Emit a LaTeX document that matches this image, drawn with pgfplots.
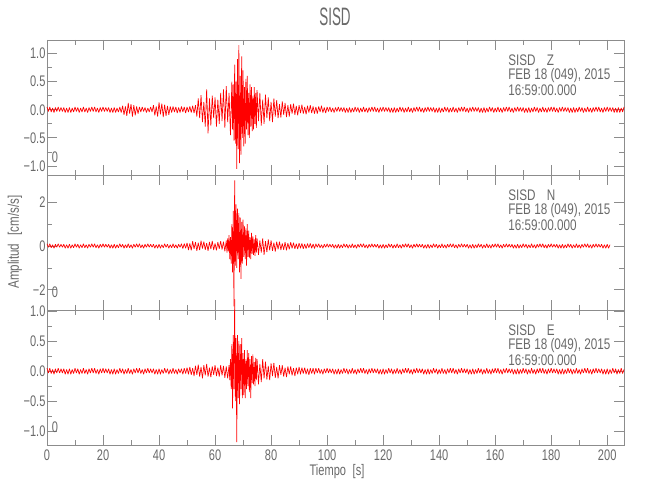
\documentclass[border=0pt]{standalone}
\usepackage{fontspec}
\setmainfont{Liberation Sans}[FakeStretch=0.72]
\usepackage{pgfplots}
\pgfplotsset{compat=1.18}
\definecolor{txt}{RGB}{105,105,105}
\definecolor{axc}{RGB}{140,140,140}
\pgfplotsset{
 seis/.style={
   scale only axis, width=432.75pt, height=101.25pt,
   xmin=0, xmax=206, clip=false,
   axis line style={axc, line width=0.6pt},
   tick style={axc, line width=0.6pt},
   major tick length=7.5pt, minor tick length=3.75pt,
   xtick={0,20,...,200}, minor x tick num=1,
   minor y tick num=1,
   tick align=inside,
   ticklabel style={font=\fontsize{11.5}{13}\selectfont, text=txt},
   /pgf/number format/assume math mode=true,
   yticklabel style={inner xsep=1pt},
   anchor=south west,
 },
 trace/.style={red, line width=0.5pt, line join=bevel},
}
\begin{document}
\begin{tikzpicture}[font=\fontsize{11.5}{13}\selectfont]
\useasboundingbox (0,0) rectangle (487.5pt,375pt);
% ---------- Z ----------
\begin{axis}[seis, at={(35.25pt,243.75pt)}, ymin=-1.16, ymax=1.24,
  ytick={-1,-0.5,0,0.5,1}, yticklabels={−1.0,−0.5,0.0,0.5,1.0}, xticklabels={}]
\addplot[trace] coordinates {
(0,0.05)(0.5,-0.03)(1,0.05)(1.5,-0.04)(2,0.03)(2.5,-0.05)(3,0.04)(3.5,-0.03)(4,0.05)(4.5,-0.03)(5,0.04)(5.5,-0.03)(6,0.04)(6.5,-0.05)(7,0.03)(7.5,-0.05)
(8,0.04)(8.5,-0.05)(9,0.03)(9.5,-0.04)(10,0.05)(10.5,-0.03)(11,0.04)(11.5,-0.05)(12,0.03)(12.5,-0.04)(13,0.05)(13.5,-0.04)(14,0.03)(14.5,-0.05)(15,0.04)(15.5,-0.03)
(16,0.05)(16.5,-0.03)(17,0.05)(17.5,-0.04)(18,0.03)(18.5,-0.05)(19,0.04)(19.5,-0.03)(20,0.05)(20.5,-0.03)(21,0.04)(21.5,-0.03)(22,0.04)(22.5,-0.05)(23,0.03)(23.5,-0.05)
(24,0.04)(24.5,-0.05)(25,0.03)(25.5,-0.04)(26,0.05)(26.5,-0.05)
(27,0.07)(27.5,-0.09)(28,0.06)(28.5,-0.11)(29,0.12)(29.5,-0.07)(30,0.1)(30.5,-0.12)(31,0.08)(31.5,-0.1)(32,0.06)(32.5,-0.07)
(33,0.05)(33.5,-0.04)(34,0.05)(34.5,-0.03)(35,0.04)(35.5,-0.05)(36,0.03)(36.5,-0.04)(37,0.05)(37.5,-0.04)
(38,0.08)(38.5,-0.1)(39,0.06)(39.5,-0.12)(40,0.13)(40.5,-0.08)(41,0.11)(41.5,-0.13)(42,0.09)(42.5,-0.11)(43,0.07)(43.5,-0.09)(44,0.06)
(44.5,-0.05)(45,0.06)(45.5,-0.04)(46,0.05)(46.5,-0.06)(47,0.04)(47.5,-0.05)(48,0.06)(48.5,-0.04)(49,0.05)(49.5,-0.06)(50,0.05)(50.5,-0.04)(51,0.06)(51.5,-0.05)(52,0.07)(52.5,-0.06)(53,0.08)
(53.5,-0.12)(54,0.2)(54.5,-0.15)(55,0.26)(55.5,-0.22)(56,0.14)(56.5,-0.3)(57,0.36)(57.5,-0.42)(58,0.2)(58.5,-0.28)(59,0.25)(59.5,-0.15)(60,0.22)(60.5,-0.3)(61,0.18)(61.5,-0.25)(62,0.3)(62.5,-0.2)(63,0.36)(63.5,-0.32)(64,0.42)(64.5,-0.22)(65,0.3)(65.5,-0.45)(66,0.5)
(66.25,-0.35)(66.5,0.45)(66.75,-0.55)(67,0.8)(67.25,-0.6)(67.5,0.5)(67.75,-1.05)(68,0.9)(68.25,-0.7)(68.5,1.15)(68.75,-0.95)(69,0.6)(69.25,-0.8)(69.5,0.95)(69.75,-0.5)(70,0.7)(70.25,-0.65)(70.5,0.4)(70.75,-0.6)(71,0.55)(71.25,-0.35)(71.5,0.6)(71.75,-0.45)(72,0.3)(72.25,-0.5)(72.5,0.45)(72.75,-0.3)(73,0.4)(73.25,-0.38)(73.5,0.25)(73.75,-0.35)(74,0.4)(74.25,-0.25)(74.5,0.3)(74.75,-0.32)(75,0.35)
(75.5,-0.2)(76,0.3)(76.5,-0.28)(77,0.18)(77.5,-0.25)(78,0.27)(78.5,-0.15)(79,0.22)(79.5,-0.2)(80,0.14)(80.5,-0.22)(81,0.2)(81.5,-0.12)(82,0.17)(82.5,-0.15)(83,0.1)(83.5,-0.14)(84,0.15)(84.5,-0.09)(85,0.12)(85.5,-0.13)(86,0.08)(86.5,-0.12)(87,0.1)(87.5,-0.07)(88,0.11)(88.5,-0.09)(89,0.07)(89.5,-0.1)
(90,0.08)(90.5,-0.06)(91,0.09)(91.5,-0.07)(92,0.05)(92.5,-0.08)(93,0.07)(93.5,-0.05)(94,0.08)(94.5,-0.06)(95,0.06)(95.5,-0.07)(96,0.05)(96.5,-0.07)(97,0.06)(97.5,-0.04)(98,0.07)(98.5,-0.05)(99,0.04)(99.5,-0.06)
(100,0.05)(100.5,-0.03)(101,0.05)(101.5,-0.04)(102,0.03)(102.5,-0.05)(103,0.04)(103.5,-0.03)(104,0.05)(104.5,-0.03)(105,0.04)(105.5,-0.03)(106,0.04)(106.5,-0.05)(107,0.03)(107.5,-0.05)
(108,0.04)(108.5,-0.05)(109,0.03)(109.5,-0.04)(110,0.05)(110.5,-0.03)(111,0.04)(111.5,-0.05)(112,0.03)(112.5,-0.04)(113,0.05)(113.5,-0.04)(114,0.03)(114.5,-0.05)(115,0.04)(115.5,-0.03)
(116,0.05)(116.5,-0.03)(117,0.05)(117.5,-0.04)(118,0.03)(118.5,-0.05)(119,0.04)(119.5,-0.03)(120,0.05)(120.5,-0.03)(121,0.04)(121.5,-0.03)(122,0.04)(122.5,-0.05)(123,0.03)(123.5,-0.05)
(124,0.04)(124.5,-0.05)(125,0.03)(125.5,-0.04)(126,0.05)(126.5,-0.03)(127,0.04)(127.5,-0.05)(128,0.03)(128.5,-0.04)(129,0.05)(129.5,-0.04)(130,0.03)(130.5,-0.05)(131,0.04)(131.5,-0.03)
(132,0.05)(132.5,-0.03)(133,0.05)(133.5,-0.04)(134,0.03)(134.5,-0.05)(135,0.04)(135.5,-0.03)(136,0.05)(136.5,-0.03)(137,0.04)(137.5,-0.03)(138,0.04)(138.5,-0.05)(139,0.03)(139.5,-0.05)
(140,0.04)(140.5,-0.05)(141,0.03)(141.5,-0.04)(142,0.05)(142.5,-0.03)(143,0.04)(143.5,-0.05)(144,0.03)(144.5,-0.04)(145,0.05)(145.5,-0.04)(146,0.03)(146.5,-0.05)(147,0.04)(147.5,-0.03)
(148,0.05)(148.5,-0.03)(149,0.05)(149.5,-0.04)(150,0.03)(150.5,-0.05)(151,0.04)(151.5,-0.03)(152,0.05)(152.5,-0.03)(153,0.04)(153.5,-0.03)(154,0.04)(154.5,-0.05)(155,0.03)(155.5,-0.05)
(156,0.04)(156.5,-0.05)(157,0.03)(157.5,-0.04)(158,0.05)(158.5,-0.03)(159,0.04)(159.5,-0.05)(160,0.03)(160.5,-0.04)(161,0.05)(161.5,-0.04)(162,0.03)(162.5,-0.05)(163,0.04)(163.5,-0.03)
(164,0.05)(164.5,-0.03)(165,0.05)(165.5,-0.04)(166,0.03)(166.5,-0.05)(167,0.04)(167.5,-0.03)(168,0.05)(168.5,-0.03)(169,0.04)(169.5,-0.03)(170,0.04)(170.5,-0.05)(171,0.03)(171.5,-0.05)
(172,0.04)(172.5,-0.05)(173,0.03)(173.5,-0.04)(174,0.05)(174.5,-0.03)(175,0.04)(175.5,-0.05)(176,0.03)(176.5,-0.04)(177,0.05)(177.5,-0.04)(178,0.03)(178.5,-0.05)(179,0.04)(179.5,-0.03)
(180,0.05)(180.5,-0.03)(181,0.05)(181.5,-0.04)(182,0.03)(182.5,-0.05)(183,0.04)(183.5,-0.03)(184,0.05)(184.5,-0.03)(185,0.04)(185.5,-0.03)(186,0.04)(186.5,-0.05)(187,0.03)(187.5,-0.05)
(188,0.04)(188.5,-0.05)(189,0.03)(189.5,-0.04)(190,0.05)(190.5,-0.03)(191,0.04)(191.5,-0.05)(192,0.03)(192.5,-0.04)(193,0.05)(193.5,-0.04)(194,0.03)(194.5,-0.05)(195,0.04)(195.5,-0.03)
(196,0.05)(196.5,-0.03)(197,0.05)(197.5,-0.04)(198,0.03)(198.5,-0.05)(199,0.04)(199.5,-0.03)(200,0.05)(200.5,-0.03)(201,0.04)(201.5,-0.03)(202,0.04)(202.5,-0.05)(203,0.03)(203.5,-0.05)
(204,0.04)(204.5,-0.05)(205,0.03)(205.5,-0.04)(206,0.05)
};
\end{axis}
% ---------- N ----------
\begin{axis}[seis, at={(35.25pt,142.5pt)}, ymin=-2.92, ymax=3.24,
  ytick={-2,0,2}, yticklabels={−2,0,2}, xticklabels={}]
\addplot[trace] coordinates {
(0,0.1)(0.5,-0.06)(1,0.1)(1.5,-0.08)(2,0.06)(2.5,-0.1)(3,0.08)(3.5,-0.06)(4,0.1)(4.5,-0.06)(5,0.08)(5.5,-0.06)(6,0.08)(6.5,-0.1)(7,0.06)(7.5,-0.1)
(8,0.08)(8.5,-0.1)(9,0.06)(9.5,-0.08)(10,0.1)(10.5,-0.06)(11,0.08)(11.5,-0.1)(12,0.06)(12.5,-0.08)(13,0.1)(13.5,-0.08)(14,0.06)(14.5,-0.1)(15,0.08)(15.5,-0.06)
(16,0.1)(16.5,-0.06)(17,0.1)(17.5,-0.08)(18,0.06)(18.5,-0.1)(19,0.08)(19.5,-0.06)(20,0.1)(20.5,-0.06)(21,0.08)(21.5,-0.06)(22,0.08)(22.5,-0.1)(23,0.06)(23.5,-0.1)
(24,0.08)(24.5,-0.1)(25,0.06)(25.5,-0.08)(26,0.1)(26.5,-0.06)(27,0.08)(27.5,-0.1)(28,0.06)(28.5,-0.08)(29,0.1)(29.5,-0.08)(30,0.06)(30.5,-0.1)(31,0.08)(31.5,-0.06)
(32,0.1)(32.5,-0.06)(33,0.1)(33.5,-0.08)(34,0.06)(34.5,-0.1)(35,0.08)(35.5,-0.06)(36,0.1)(36.5,-0.06)(37,0.08)(37.5,-0.06)(38,0.08)(38.5,-0.1)(39,0.06)(39.5,-0.1)
(40,0.08)(40.5,-0.1)(41,0.06)(41.5,-0.08)(42,0.1)(42.5,-0.06)(43,0.08)(43.5,-0.1)(44,0.06)(44.5,-0.08)(45,0.1)(45.5,-0.08)(46,0.06)(46.5,-0.1)(47,0.08)(47.5,-0.06)
(48,0.1)(48.5,-0.12)(49,0.11)(49.5,-0.1)
(50,0.14)(50.5,-0.18)(51,0.12)(51.5,-0.2)(52,0.22)(52.5,-0.13)(53,0.18)(53.5,-0.22)(54,0.15)(54.5,-0.19)(55,0.24)(55.5,-0.12)(56,0.2)(56.5,-0.17)(57,0.13)(57.5,-0.22)(58,0.19)(58.5,-0.14)(59,0.23)(59.5,-0.18)(60,0.12)(60.5,-0.2)(61,0.18)(61.5,-0.13)(62,0.22)(62.5,-0.16)(63,0.2)(63.5,-0.24)
(64,0.25)(64.25,-0.3)(64.5,0.35)(64.75,-0.25)(65,0.5)(65.25,-0.6)(65.5,0.4)(65.75,-0.8)(66,1.0)(66.25,-1.2)(66.5,1.6)(66.75,-2.75)(67,3.0)(67.25,-0.9)(67.5,1.9)(67.75,-1.0)(68,1.7)(68.25,-0.6)(68.5,1.5)(68.75,-1.2)(69,1.3)(69.25,-1.5)(69.5,1.1)(69.75,-0.8)(70,1.2)(70.25,-0.5)(70.5,0.9)(70.75,-0.6)(71,0.8)(71.25,-0.9)(71.5,1.0)(71.75,-0.5)(72,0.7)(72.25,-0.55)(72.5,0.4)(72.75,-0.6)(73,0.6)(73.25,-0.35)(73.5,0.45)(73.75,-0.4)(74,0.3)(74.25,-0.45)(74.5,0.5)(74.75,-0.3)(75,0.35)
(75.5,-0.4)(76,0.25)(76.5,-0.3)(77,0.35)(77.5,-0.4)(78,0.22)(78.5,-0.28)(79,0.3)(79.5,-0.2)(80,0.25)(80.5,-0.22)(81,0.15)(81.5,-0.25)(82,0.2)(82.5,-0.15)(83,0.2)(83.5,-0.18)(84,0.12)(84.5,-0.17)(85,0.18)(85.5,-0.2)(86,0.13)(86.5,-0.15)(87,0.17)(87.5,-0.11)(88,0.15)(88.5,-0.13)(89,0.1)(89.5,-0.14)
(90,0.13)(90.5,-0.1)(91,0.12)(91.5,-0.13)(92,0.09)(92.5,-0.12)(93,0.11)(93.5,-0.08)(94,0.12)(94.5,-0.1)(95,0.09)(95.5,-0.11)
(96,0.1)(96.5,-0.06)(97,0.1)(97.5,-0.08)(98,0.06)(98.5,-0.1)(99,0.08)(99.5,-0.06)(100,0.1)(100.5,-0.06)(101,0.08)(101.5,-0.06)(102,0.08)(102.5,-0.1)(103,0.06)(103.5,-0.1)
(104,0.08)(104.5,-0.1)(105,0.06)(105.5,-0.08)(106,0.1)(106.5,-0.06)(107,0.08)(107.5,-0.1)(108,0.06)(108.5,-0.08)(109,0.1)(109.5,-0.08)(110,0.06)(110.5,-0.1)(111,0.08)(111.5,-0.06)
(112,0.1)(112.5,-0.06)(113,0.1)(113.5,-0.08)(114,0.06)(114.5,-0.1)(115,0.08)(115.5,-0.06)(116,0.1)(116.5,-0.06)(117,0.08)(117.5,-0.06)(118,0.08)(118.5,-0.1)(119,0.06)(119.5,-0.1)
(120,0.08)(120.5,-0.1)(121,0.06)(121.5,-0.08)(122,0.1)(122.5,-0.06)(123,0.08)(123.5,-0.1)(124,0.06)(124.5,-0.08)(125,0.1)(125.5,-0.08)(126,0.06)(126.5,-0.1)(127,0.08)(127.5,-0.06)
(128,0.1)(128.5,-0.06)(129,0.1)(129.5,-0.08)(130,0.06)(130.5,-0.1)(131,0.08)(131.5,-0.06)(132,0.1)(132.5,-0.06)(133,0.08)(133.5,-0.06)(134,0.08)(134.5,-0.1)(135,0.06)(135.5,-0.1)
(136,0.08)(136.5,-0.1)(137,0.06)(137.5,-0.08)(138,0.1)(138.5,-0.06)(139,0.08)(139.5,-0.1)(140,0.06)(140.5,-0.08)(141,0.1)(141.5,-0.08)(142,0.06)(142.5,-0.1)(143,0.08)(143.5,-0.06)
(144,0.1)(144.5,-0.06)(145,0.1)(145.5,-0.08)(146,0.06)(146.5,-0.1)(147,0.08)(147.5,-0.06)(148,0.1)(148.5,-0.06)(149,0.08)(149.5,-0.06)(150,0.08)(150.5,-0.1)(151,0.06)(151.5,-0.1)
(152,0.08)(152.5,-0.1)(153,0.06)(153.5,-0.08)(154,0.1)(154.5,-0.06)(155,0.08)(155.5,-0.1)(156,0.06)(156.5,-0.08)(157,0.1)(157.5,-0.08)(158,0.06)(158.5,-0.1)(159,0.08)(159.5,-0.06)
(160,0.1)(160.5,-0.06)(161,0.1)(161.5,-0.08)(162,0.06)(162.5,-0.1)(163,0.08)(163.5,-0.06)(164,0.1)(164.5,-0.06)(165,0.08)(165.5,-0.06)(166,0.08)(166.5,-0.1)(167,0.06)(167.5,-0.1)
(168,0.08)(168.5,-0.1)(169,0.06)(169.5,-0.08)(170,0.1)(170.5,-0.06)(171,0.08)(171.5,-0.1)(172,0.06)(172.5,-0.08)(173,0.1)(173.5,-0.08)(174,0.06)(174.5,-0.1)(175,0.08)(175.5,-0.06)
(176,0.1)(176.5,-0.06)(177,0.1)(177.5,-0.08)(178,0.06)(178.5,-0.1)(179,0.08)(179.5,-0.06)(180,0.1)(180.5,-0.06)(181,0.08)(181.5,-0.06)(182,0.08)(182.5,-0.1)(183,0.06)(183.5,-0.1)
(184,0.08)(184.5,-0.1)(185,0.06)(185.5,-0.08)(186,0.1)(186.5,-0.06)(187,0.08)(187.5,-0.1)(188,0.06)(188.5,-0.08)(189,0.1)(189.5,-0.08)(190,0.06)(190.5,-0.1)(191,0.08)(191.5,-0.06)
(192,0.1)(192.5,-0.06)(193,0.1)(193.5,-0.08)(194,0.06)(194.5,-0.1)(195,0.08)(195.5,-0.06)(196,0.1)(196.5,-0.06)(197,0.08)(197.5,-0.06)(198,0.08)(198.5,-0.1)(199,0.06)(199.5,-0.1)
(200,0.08)(200.5,-0.1)(201,0.06)
};
\end{axis}
% ---------- E ----------
\begin{axis}[seis, at={(35.25pt,41.25pt)}, ymin=-1.23, ymax=1.02,
  ytick={-1,-0.5,0,0.5,1}, yticklabels={−1.0,−0.5,0.0,0.5,1.0}]
\addplot[trace] coordinates {
(0,0.05)(0.5,-0.03)(1,0.05)(1.5,-0.04)(2,0.03)(2.5,-0.05)(3,0.04)(3.5,-0.03)(4,0.05)(4.5,-0.03)(5,0.04)(5.5,-0.03)(6,0.04)(6.5,-0.05)(7,0.03)(7.5,-0.05)
(8,0.04)(8.5,-0.05)(9,0.03)(9.5,-0.04)(10,0.05)(10.5,-0.03)(11,0.04)(11.5,-0.05)(12,0.03)(12.5,-0.04)(13,0.05)(13.5,-0.04)(14,0.03)(14.5,-0.05)(15,0.04)(15.5,-0.03)
(16,0.05)(16.5,-0.03)(17,0.05)(17.5,-0.04)(18,0.03)(18.5,-0.05)(19,0.04)(19.5,-0.03)(20,0.05)(20.5,-0.03)(21,0.04)(21.5,-0.03)(22,0.04)(22.5,-0.05)(23,0.03)(23.5,-0.05)
(24,0.04)(24.5,-0.05)(25,0.03)(25.5,-0.04)(26,0.05)(26.5,-0.03)(27,0.04)(27.5,-0.05)(28,0.03)(28.5,-0.04)(29,0.05)(29.5,-0.04)(30,0.03)(30.5,-0.05)(31,0.04)(31.5,-0.03)
(32,0.05)(32.5,-0.03)(33,0.05)(33.5,-0.04)(34,0.03)(34.5,-0.05)(35,0.04)(35.5,-0.03)(36,0.05)(36.5,-0.03)(37,0.04)(37.5,-0.03)(38,0.04)(38.5,-0.05)(39,0.03)(39.5,-0.05)
(40,0.04)(40.5,-0.05)(41,0.03)(41.5,-0.04)(42,0.05)(42.5,-0.03)(43,0.04)(43.5,-0.05)(44,0.03)(44.5,-0.04)(45,0.05)(45.5,-0.04)(46,0.03)(46.5,-0.05)(47,0.04)(47.5,-0.03)
(48,0.04)(48.5,-0.05)(49,0.05)(49.5,-0.04)
(50,0.06)(50.5,-0.05)(51,0.07)(51.5,-0.06)(52,0.05)(52.5,-0.08)(53,0.09)(53.5,-0.06)(54,0.11)(54.5,-0.09)(55,0.07)(55.5,-0.12)(56,0.1)(56.5,-0.07)(57,0.12)(57.5,-0.09)(58,0.06)(58.5,-0.1)(59,0.08)(59.5,-0.06)(60,0.1)(60.5,-0.08)(61,0.06)(61.5,-0.09)(62,0.1)(62.5,-0.07)(63,0.09)(63.5,-0.11)(64,0.08)(64.5,-0.12)
(65,0.1)(65.25,-0.15)(65.5,0.2)(65.75,-0.3)(66,0.45)(66.25,-0.62)(66.5,0.6)(66.75,-0.3)(67,1.2)(67.25,-0.5)(67.5,0.55)(67.75,-1.18)(68,0.6)(68.25,-0.45)(68.5,0.5)(68.75,-0.55)(69,0.45)(69.25,-0.3)(69.5,0.55)(69.75,-0.45)(70,0.3)(70.25,-0.4)(70.5,0.35)(70.75,-0.45)(71,0.2)(71.25,-0.3)(71.5,0.35)(71.75,-0.25)(72,0.3)(72.25,-0.35)(72.5,0.2)(72.75,-0.45)(73,0.25)(73.25,-0.2)(73.5,0.28)(73.75,-0.22)(74,0.15)(74.25,-0.25)(74.5,0.22)(74.75,-0.15)(75,0.2)
(75.5,-0.22)(76,0.12)(76.5,-0.18)(77,0.2)(77.5,-0.12)(78,0.16)(78.5,-0.14)(79,0.09)(79.5,-0.15)(80,0.13)(80.5,-0.08)(81,0.14)(81.5,-0.11)(82,0.07)(82.5,-0.12)(83,0.1)(83.5,-0.06)(84,0.1)(84.5,-0.09)(85,0.06)(85.5,-0.1)(86,0.08)(86.5,-0.05)(87,0.08)(87.5,-0.07)(88,0.05)(88.5,-0.08)(89,0.06)(89.5,-0.05)
(90,0.07)(90.5,-0.05)(91,0.06)(91.5,-0.04)(92,0.06)(92.5,-0.05)(93,0.04)(93.5,-0.06)(94,0.05)(94.5,-0.04)(95,0.05)(95.5,-0.05)
(96,0.05)(96.5,-0.03)(97,0.05)(97.5,-0.04)(98,0.03)(98.5,-0.05)(99,0.04)(99.5,-0.03)(100,0.05)(100.5,-0.03)(101,0.04)(101.5,-0.03)(102,0.04)(102.5,-0.05)(103,0.03)(103.5,-0.05)
(104,0.04)(104.5,-0.05)(105,0.03)(105.5,-0.04)(106,0.05)(106.5,-0.03)(107,0.04)(107.5,-0.05)(108,0.03)(108.5,-0.04)(109,0.05)(109.5,-0.04)(110,0.03)(110.5,-0.05)(111,0.04)(111.5,-0.03)
(112,0.05)(112.5,-0.03)(113,0.05)(113.5,-0.04)(114,0.03)(114.5,-0.05)(115,0.04)(115.5,-0.03)(116,0.05)(116.5,-0.03)(117,0.04)(117.5,-0.03)(118,0.04)(118.5,-0.05)(119,0.03)(119.5,-0.05)
(120,0.04)(120.5,-0.05)(121,0.03)(121.5,-0.04)(122,0.05)(122.5,-0.03)(123,0.04)(123.5,-0.05)(124,0.03)(124.5,-0.04)(125,0.05)(125.5,-0.04)(126,0.03)(126.5,-0.05)(127,0.04)(127.5,-0.03)
(128,0.05)(128.5,-0.03)(129,0.05)(129.5,-0.04)(130,0.03)(130.5,-0.05)(131,0.04)(131.5,-0.03)(132,0.05)(132.5,-0.03)(133,0.04)(133.5,-0.03)(134,0.04)(134.5,-0.05)(135,0.03)(135.5,-0.05)
(136,0.04)(136.5,-0.05)(137,0.03)(137.5,-0.04)(138,0.05)(138.5,-0.03)(139,0.04)(139.5,-0.05)(140,0.03)(140.5,-0.04)(141,0.05)(141.5,-0.04)(142,0.03)(142.5,-0.05)(143,0.04)(143.5,-0.03)
(144,0.05)(144.5,-0.03)(145,0.05)(145.5,-0.04)(146,0.03)(146.5,-0.05)(147,0.04)(147.5,-0.03)(148,0.05)(148.5,-0.03)(149,0.04)(149.5,-0.03)(150,0.04)(150.5,-0.05)(151,0.03)(151.5,-0.05)
(152,0.04)(152.5,-0.05)(153,0.03)(153.5,-0.04)(154,0.05)(154.5,-0.03)(155,0.04)(155.5,-0.05)(156,0.03)(156.5,-0.04)(157,0.05)(157.5,-0.04)(158,0.03)(158.5,-0.05)(159,0.04)(159.5,-0.03)
(160,0.05)(160.5,-0.03)(161,0.05)(161.5,-0.04)(162,0.03)(162.5,-0.05)(163,0.04)(163.5,-0.03)(164,0.05)(164.5,-0.03)(165,0.04)(165.5,-0.03)(166,0.04)(166.5,-0.05)(167,0.03)(167.5,-0.05)
(168,0.04)(168.5,-0.05)(169,0.03)(169.5,-0.04)(170,0.05)(170.5,-0.03)(171,0.04)(171.5,-0.05)(172,0.03)(172.5,-0.04)(173,0.05)(173.5,-0.04)(174,0.03)(174.5,-0.05)(175,0.04)(175.5,-0.03)
(176,0.05)(176.5,-0.03)(177,0.05)(177.5,-0.04)(178,0.03)(178.5,-0.05)(179,0.04)(179.5,-0.03)(180,0.05)(180.5,-0.03)(181,0.04)(181.5,-0.03)(182,0.04)(182.5,-0.05)(183,0.03)(183.5,-0.05)
(184,0.04)(184.5,-0.05)(185,0.03)(185.5,-0.04)(186,0.05)(186.5,-0.03)(187,0.04)(187.5,-0.05)(188,0.03)(188.5,-0.04)(189,0.05)(189.5,-0.04)(190,0.03)(190.5,-0.05)(191,0.04)(191.5,-0.03)
(192,0.05)(192.5,-0.03)(193,0.05)(193.5,-0.04)(194,0.03)(194.5,-0.05)(195,0.04)(195.5,-0.03)(196,0.05)(196.5,-0.03)(197,0.04)(197.5,-0.03)(198,0.04)(198.5,-0.05)(199,0.03)(199.5,-0.05)
(200,0.04)(200.5,-0.05)(201,0.03)(201.5,-0.04)(202,0.05)(202.5,-0.03)(203,0.04)(203.5,-0.05)(204,0.03)(204.5,-0.04)(205,0.05)(205.5,-0.04)(206,0.03)
};
\end{axis}
% ---------- texts ----------
\begin{scope}[every node/.style={text=txt, inner sep=0pt}]
\node at (251.25pt,362.25pt) {\scalebox{0.74}[1]{\fontsize{18.9}{20}\selectfont SISD}};
\node[rotate=90] at (11.25pt,193.5pt) {\scalebox{1.05}[1]{Amplitud\hspace{6pt}[cm/s/s]}};
\node at (252.75pt,21pt) {Tiempo\hspace{5pt}[s]};
\foreach \t/\c in {0/Z,101.25/N,202.5/E}{
  \node[anchor=west] at (381pt,{329.6pt-\t pt}) {\scalebox{1.06}[1]{SISD\hspace{8pt}\c}};
  \node[anchor=west] at (381pt,{318.4pt-\t pt}) {\scalebox{1.06}[1]{FEB 18 (049), 2015}};
  \node[anchor=west] at (381pt,{307.1pt-\t pt}) {\scalebox{1.06}[1]{16:59:00.000}};
  \node at (41.25pt,{257.25pt-\t pt}) {0};
}
\end{scope}
\end{tikzpicture}
\end{document}
